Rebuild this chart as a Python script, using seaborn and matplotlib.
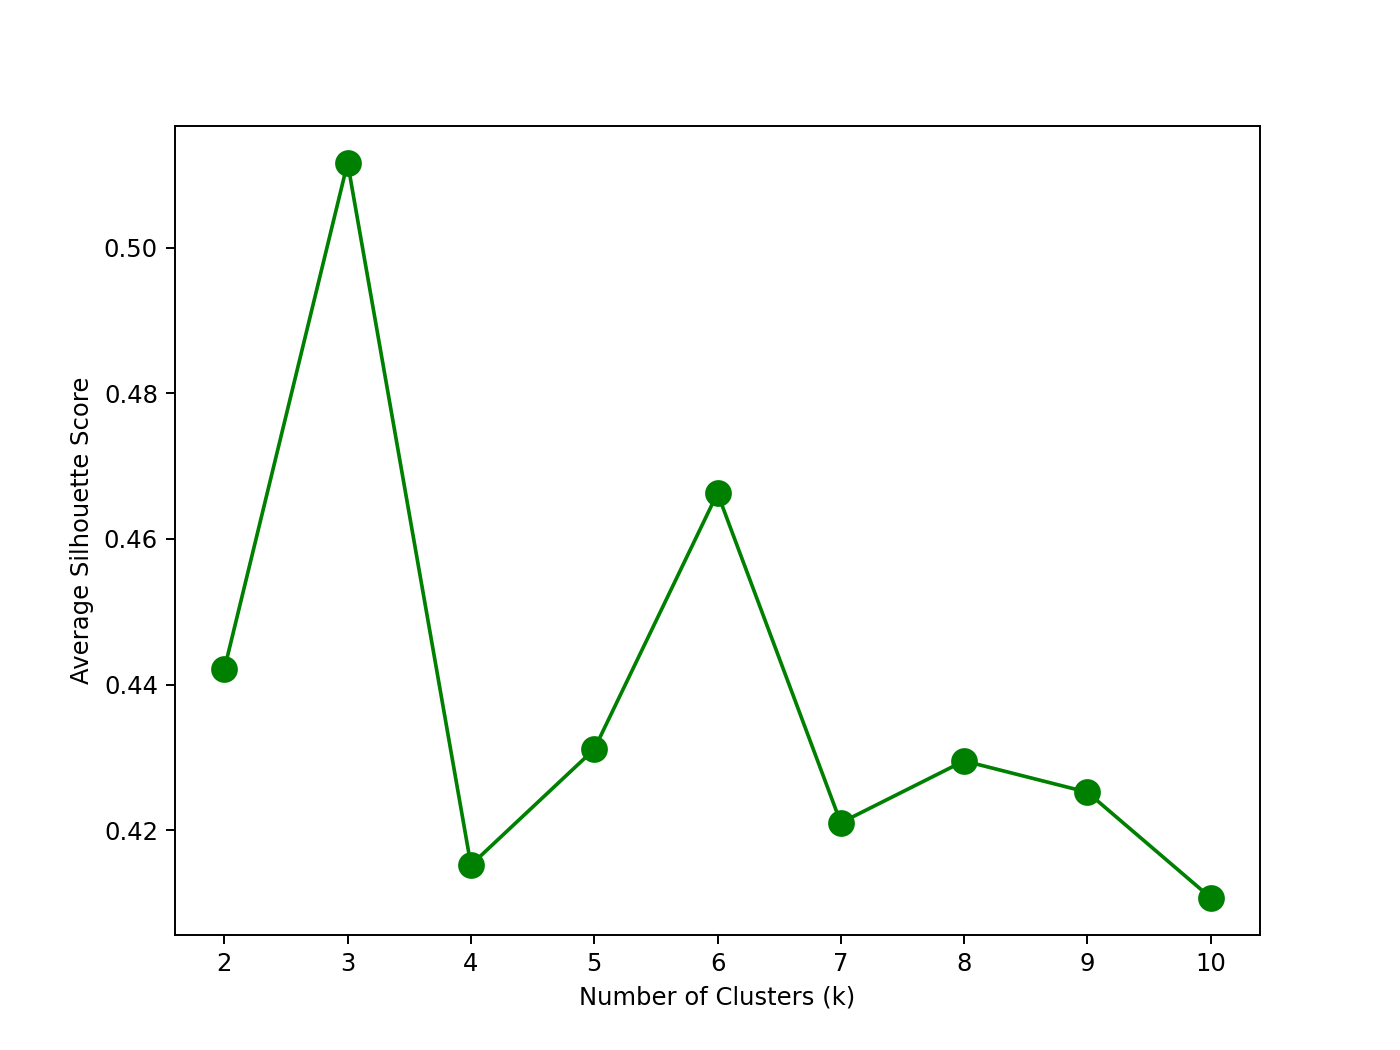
import matplotlib
matplotlib.use("Agg")
import matplotlib.pyplot as plt
import seaborn as sns
import pandas as pd

# Silhouette scores
k_values = [2, 3, 4, 5, 6, 7, 8, 9, 10]
silhouette_scores = [0.4421, 0.5117, 0.4152, 0.4311, 0.4663, 0.4210, 0.4295, 0.4252, 0.4107]

df = pd.DataFrame({"k": k_values, "score": silhouette_scores})

fig, ax = plt.subplots(figsize=(8, 6))
sns.lineplot(data=df, x="k", y="score", marker="o", markersize=10,
             color="green", markeredgecolor="green", markeredgewidth=1,
             ax=ax)
ax.set_xticks(k_values)
ax.set_xlabel("Number of Clusters (k)")
ax.set_ylabel("Average Silhouette Score")

fig.savefig("out.png", dpi=175)
plt.close(fig)
